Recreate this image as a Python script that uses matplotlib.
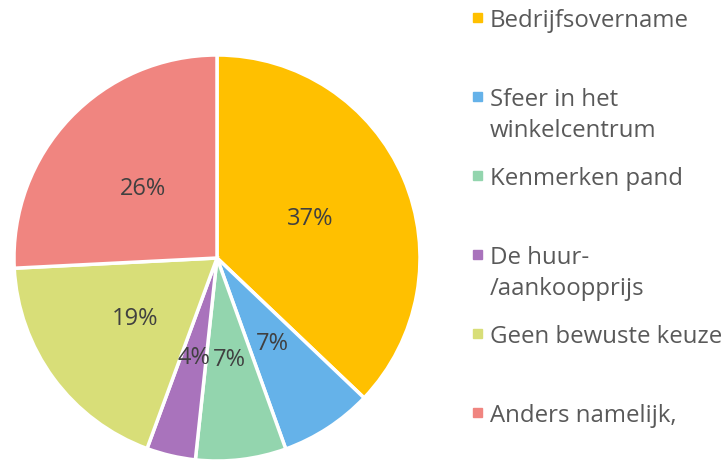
import matplotlib.pyplot as plt
from matplotlib.patches import Rectangle

plt.rcParams['font.family'] = ['Open Sans', 'DejaVu Sans']

labels = ['Bedrijfsovername', 'Sfeer in het\nwinkelcentrum', 'Kenmerken pand',
          'De huur-\n/aankoopprijs', 'Geen bewuste keuze', 'Anders namelijk,']
values = [37.1, 7.4, 7.2, 3.9, 18.6, 25.8]
colors = ['#FFC000', '#65B2E9', '#93D5AE', '#A973BC', '#D8DE78', '#F08580']

fig = plt.figure(figsize=(7.28, 4.64), dpi=100)
ax = fig.add_axes([14 / 728, 2 / 464, 406 / 728, 406 / 464])
ax.pie(values, colors=colors, startangle=90, counterclock=False,
       autopct='%.0f%%', pctdistance=0.5,
       wedgeprops=dict(edgecolor='white', linewidth=2.5),
       textprops=dict(fontsize=17, color='#404040'))
ax.set_xlim(-1, 1)
ax.set_ylim(-1, 1)

# legend drawn by hand, one slot per category
for i, (lab, col) in enumerate(zip(labels, colors)):
    ybase = 464 - 27 - 79 * i
    fig.patches.append(Rectangle((473 / 728, (ybase + 4) / 464), 9 / 728, 9 / 464,
                                 transform=fig.transFigure, color=col))
    first, *rest = lab.split('\n')
    fig.text(490 / 728, ybase / 464, first, fontsize=17.3, color='#595959',
             va='baseline', ha='left')
    for j, line in enumerate(rest, 1):
        fig.text(490 / 728, (ybase - 31 * j) / 464, line, fontsize=17.3,
                 color='#595959', va='baseline', ha='left')

fig.savefig('out.png')
